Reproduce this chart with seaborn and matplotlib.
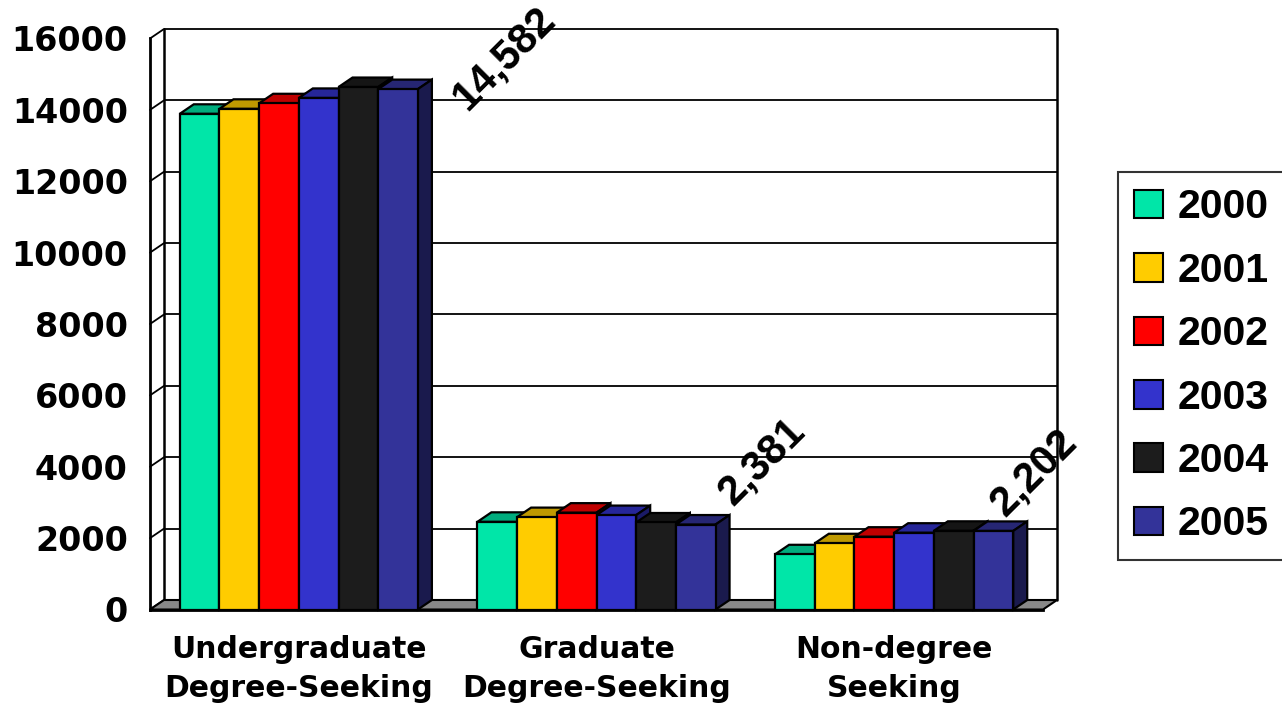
import matplotlib
matplotlib.use("Agg")
import numpy as np
import pandas as pd
import seaborn as sns
import matplotlib.pyplot as plt
from matplotlib.patches import Polygon, Patch
from matplotlib.colors import to_rgb

# ---- data -------------------------------------------------------------
categories = ["Undergraduate\nDegree-Seeking", "Graduate\nDegree-Seeking", "Non-degree\nSeeking"]
years = ["2000", "2001", "2002", "2003", "2004", "2005"]
y2000 = [13890, 2457, 1547]
y2001 = [14030, 2589, 1856]
y2002 = [14185, 2714, 2040]
y2003 = [14335, 2646, 2152]
y2004 = [14640, 2438, 2205]
y2005 = [14582, 2381, 2202]
series = [y2000, y2001, y2002, y2003, y2004, y2005]
y_ticks = [0, 2000, 4000, 6000, 8000, 10000, 12000, 14000, 16000]

front_colors = ["#00E6A8", "#FFCC00", "#FF0000", "#3333CC", "#1C1C1C", "#333399"]

# where each rotated value label sits relative to the top of its bar (points)
label_offsets = [(76, 22), (48, 45), (29, 42)]

df = pd.DataFrame(
    [(c, yr, v) for yr, vals in zip(years, series) for c, v in zip(categories, vals)],
    columns=["category", "year", "students"],
)

# ---- figure -----------------------------------------------------------
sns.set_style("white")
plt.rcParams["font.family"] = ["DejaVu Sans"]
plt.rcParams["font.weight"] = "bold"
for key in ("text.color", "axes.labelcolor", "xtick.color", "ytick.color", "axes.edgecolor"):
    plt.rcParams[key] = "black"

W, H = 1282, 714
fig = plt.figure(figsize=(W / 100, H / 100), dpi=100)
ax = fig.add_axes([150 / W, 104.5 / H, 893 / W, 571 / H])
ax.set_facecolor("none")

sns.barplot(
    data=df, x="category", y="students", hue="year", order=categories,
    hue_order=years, palette=front_colors, saturation=1, width=0.8,
    edgecolor="black", linewidth=1.6, legend=False, ax=ax, zorder=3,
)
ax.set_xlim(-0.5, 2.5)
ax.set_ylim(0, 16000)
ax.set_xlabel("")
ax.set_ylabel("")

# depth of the pseudo-3D box, converted from pixels to data units
DEPTH_PX = (14.0, 9.5)
bbox = ax.get_window_extent()
ddx = DEPTH_PX[0] * 3.0 / bbox.width
ddy = DEPTH_PX[1] * 16000.0 / bbox.height


def shade(color, f):
    r, g, b = to_rgb(color)
    return (r * f, g * f, b * f)


# back wall grid lines and left-wall diagonals
for v in y_ticks:
    ax.plot([-0.5 + ddx, 2.5 + ddx], [v + ddy, v + ddy], color="black", lw=1.3,
            zorder=0.5, clip_on=False, solid_capstyle="butt")
    ax.plot([-0.5, -0.5 + ddx], [v, v + ddy], color="black", lw=1.3,
            zorder=0.6, clip_on=False)
# back-left and back-right vertical edges
for x in (-0.5 + ddx, 2.5 + ddx):
    ax.plot([x, x], [ddy, 16000 + ddy], color="black", lw=1.8, zorder=0.6, clip_on=False)

# floor
floor = Polygon([(-0.5, 0), (2.5, 0), (2.5 + ddx, ddy), (-0.5 + ddx, ddy)], closed=True,
                facecolor="#888888", edgecolor="black", lw=1.5, zorder=1, clip_on=False)
ax.add_patch(floor)

# top and side faces of every column, painted left to right
for j, cont in enumerate(ax.containers):
    col = front_colors[j]
    for bar in cont.patches:
        bar.set_zorder(3 + 0.1 * j + 0.05)
        bar.set_clip_on(False)
        x0 = bar.get_x()
        x1 = x0 + bar.get_width()
        h = bar.get_height()
        top = Polygon([(x0, h), (x1, h), (x1 + ddx, h + ddy), (x0 + ddx, h + ddy)],
                      closed=True, facecolor=shade(col, 0.75), edgecolor="black",
                      lw=1.6, zorder=3 + 0.1 * j, clip_on=False)
        side = Polygon([(x1, 0), (x1 + ddx, ddy), (x1 + ddx, h + ddy), (x1, h)],
                       closed=True, facecolor=shade(col, 0.5), edgecolor="black",
                       lw=1.6, zorder=3 + 0.1 * j, clip_on=False)
        ax.add_patch(top)
        ax.add_patch(side)

# value labels on the 2005 columns
last = ax.containers[-1]
for bar, v, off in zip(last.patches, y2005, label_offsets):
    ax.annotate(f"{v:,}", xy=(bar.get_x() + bar.get_width() / 2, bar.get_height()),
                xytext=off, textcoords="offset points", rotation=45,
                ha="center", va="center", fontsize=30, fontweight="bold",
                family="Liberation Sans", color="black", zorder=10,
                annotation_clip=False)

# axes: front edges only
sns.despine(ax=ax, top=True, right=True)
for s in ("left", "bottom"):
    ax.spines[s].set_linewidth(2)
    ax.spines[s].set_color("black")
    ax.spines[s].set_zorder(5)

ax.set_yticks(y_ticks)
ax.set_yticklabels([str(t) for t in y_ticks])
ax.tick_params(axis="y", length=6, width=1.5, pad=10, labelsize=24, color="black",
               labelcolor="black")
ax.set_xticks(range(len(categories)))
ax.set_xticklabels(categories, fontsize=21.5, linespacing=1.45)
ax.set_xticks([-0.5, 0.5, 1.5, 2.5], minor=True)
ax.tick_params(axis="x", which="major", length=0, pad=18, labelcolor="black")
ax.tick_params(axis="x", which="minor", length=6.5, width=1.5, color="black")
for lbl in ax.get_yticklabels() + ax.get_xticklabels():
    lbl.set_fontweight("bold")

# legend
handles = [Patch(facecolor=c, edgecolor="black", lw=1.5) for c in front_colors]
leg = fig.legend(handles, years, loc="upper left",
                 bbox_to_anchor=(1118 / W, 1 - 172 / H), bbox_transform=fig.transFigure,
                 frameon=True, fancybox=False, shadow=False, borderaxespad=0,
                 prop={"family": "Liberation Sans", "weight": "bold", "size": 29.5},
                 handlelength=0.7, handleheight=0.7, handletextpad=0.35,
                 borderpad=0.4, labelspacing=0.62, labelcolor="black")
leg.get_frame().set_edgecolor("black")
leg.get_frame().set_linewidth(1.5)

fig.savefig("out.png", dpi=100)
